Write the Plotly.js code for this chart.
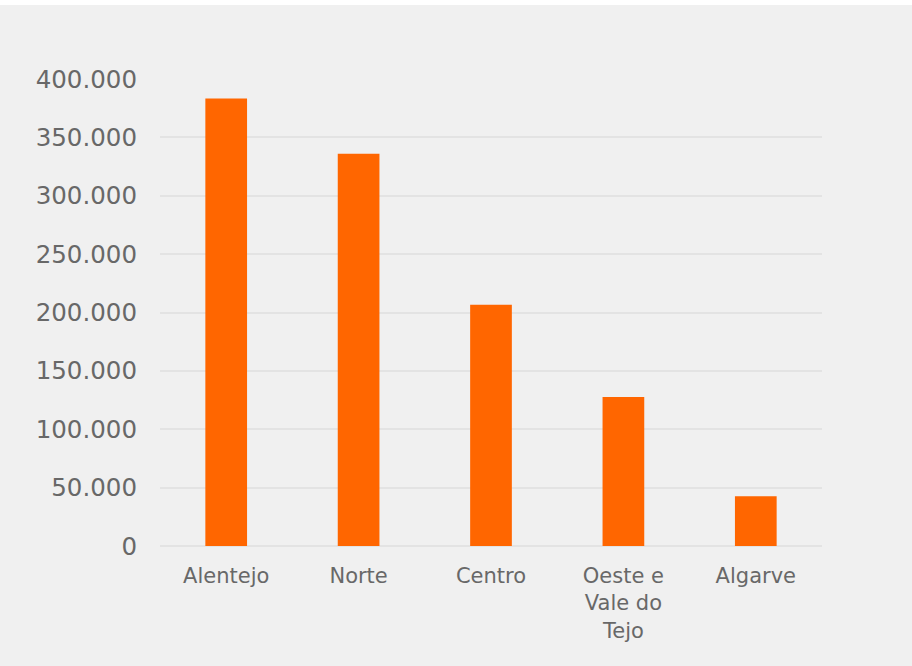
<!DOCTYPE html>
<html>
<head>
<meta charset="utf-8">
<script src="https://cdn.plot.ly/plotly-3.0.1.min.js"></script>
<style>
  html, body { margin: 0; padding: 0; background: #ffffff; }
  #chart { position: absolute; left: 0; top: 5px; width: 912px; height: 661px; }
</style>
</head>
<body>
<div id="chart"></div>
<script>
const categories = ["Alentejo", "Norte", "Centro", "Oeste e<br>Vale do<br>Tejo", "Algarve"];
const values = [383400, 336000, 206600, 127600, 42700];
const tickValues = [0, 50000, 100000, 150000, 200000, 250000, 300000, 350000, 400000];
const tickLabels = ["0", "50.000", "100.000", "150.000", "200.000", "250.000", "300.000", "350.000", "400.000"];

const trace = {
  type: "bar",
  x: categories,
  y: values,
  marker: { color: "#ff6600", line: { width: 0 } },
  hoverinfo: "x+y"
};

const layout = {
  width: 912,
  height: 661,
  margin: { l: 160, r: 90, t: 74, b: 120 },
  paper_bgcolor: "#f0f0f0",
  plot_bgcolor: "#f0f0f0",
  bargap: 0.685,
  showlegend: false,
  font: { family: "DejaVu Sans, Verdana, sans-serif", color: "#686868" },
  xaxis: {
    type: "category",
    showgrid: false,
    showline: false,
    zeroline: false,
    ticks: "",
    tickangle: 0,
    ticklabelstandoff: 15,
    tickfont: { size: 21, color: "#686868" },
    automargin: false
  },
  yaxis: {
    range: [0, 400000],
    tickvals: tickValues,
    ticktext: tickLabels,
    showgrid: true,
    gridcolor: "#e3e3e3",
    gridwidth: 2,
    zeroline: true,
    zerolinecolor: "#e3e3e3",
    zerolinewidth: 2,
    showline: false,
    ticks: "",
    ticklen: 0,
    ticklabelstandoff: 22,
    tickfont: { size: 24.5, color: "#686868" },
    automargin: false
  }
};

Plotly.newPlot("chart", [trace], layout, { displayModeBar: false, staticPlot: true });
</script>
</body>
</html>
